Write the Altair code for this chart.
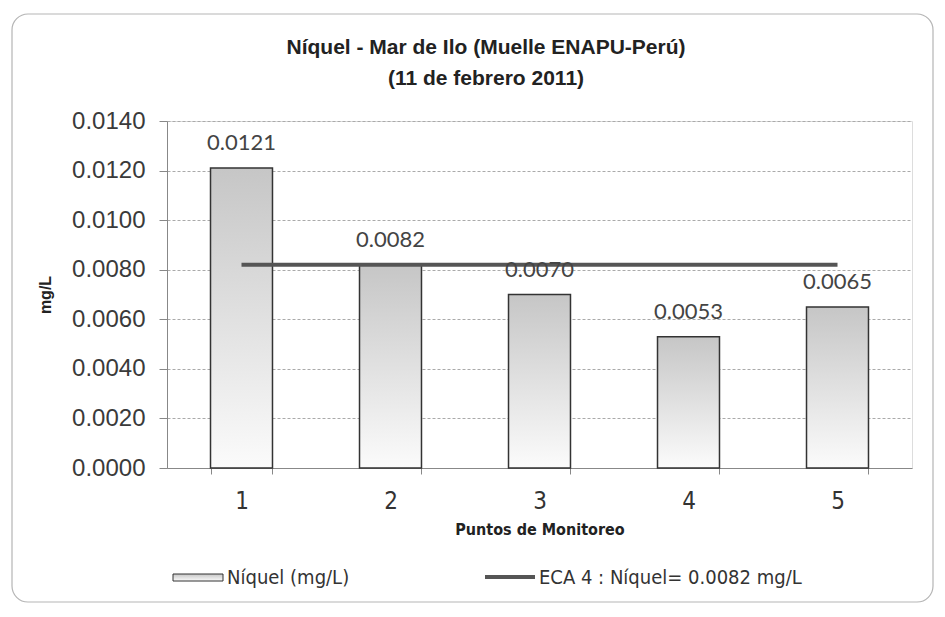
import altair as alt
import pandas as pd

# ---- data ----
puntos = ["1", "2", "3", "4", "5"]
niquel = [0.0121, 0.0082, 0.0070, 0.0053, 0.0065]
etiquetas = ["0.0121", "0.0082", "0.0070", "0.0053", "0.0065"]
eca = [0.0082, 0.0082, 0.0082, 0.0082, 0.0082]
y_ticks = [0.0, 0.002, 0.004, 0.006, 0.008, 0.010, 0.012, 0.014]
titulo = ["Níquel  - Mar de Ilo (Muelle ENAPU-Perú)", "(11 de febrero 2011)"]
eje_x = "Puntos  de Monitoreo"
eje_y = "mg/L"
leyenda_barras = "Níquel (mg/L)"
leyenda_linea = "ECA 4  : Níquel= 0.0082 mg/L"

df = pd.DataFrame({"Punto": puntos, "Niquel": niquel, "Etiqueta": etiquetas, "ECA": eca})
one = pd.DataFrame({"k": [0]})

W, H = 745, 347
NARROW = "Liberation Sans Narrow, Arial Narrow, DejaVu Sans Condensed, sans-serif"
ARIAL = "Liberation Sans, Arial, sans-serif"

x_axis = alt.Axis(
    title=eje_x, labelAngle=0, labelFont=NARROW, labelFontSize=24, labelColor="#333",
    labelPadding=15, tickSize=6, tickColor="#888", tickBand="extent",
    domainColor="#888", grid=False,
    titleFont=NARROW, titleFontSize=16, titleFontWeight="bold", titleColor="#222",
    titlePadding=8,
)
y_axis = alt.Axis(
    title=eje_y, values=y_ticks, format=".4f",
    labelFont=ARIAL, labelFontSize=24, labelColor="#3a3a3a", labelPadding=14,
    tickSize=8, tickColor="#888", domainColor="#888",
    grid=True, gridColor="#aaa", gridDash=[3, 2], gridWidth=1,
    titleFont=ARIAL, titleFontSize=16, titleFontWeight="bold", titleColor="#222",
    titleX=-122, titleY=H / 2, titleAlign="center", titleBaseline="middle",
)
x_enc = alt.X("Punto:N", sort=puntos,
              scale=alt.Scale(paddingInner=0.584, paddingOuter=0.292), axis=x_axis)
y_scale = alt.Scale(domain=[0, 0.014], nice=False)

gradient = alt.Gradient(
    gradient="linear",
    stops=[alt.GradientStop(color="#c6c6c6", offset=0),
           alt.GradientStop(color="#fbfbfb", offset=1)],
    x1=0, x2=0, y1=0, y2=1,
)

frame = alt.Chart(one).mark_rect(
    fill="white", fillOpacity=0, stroke="#b5b5b5", strokeWidth=1.2, cornerRadius=16
).encode(x=alt.value(-155), x2=alt.value(766), y=alt.value(-107), y2=alt.value(481))

title1 = alt.Chart(one).mark_text(
    font=ARIAL, fontSize=21, fontWeight="bold", color="#222", align="center", baseline="middle"
).encode(x=alt.value(319), y=alt.value(-73), text=alt.value(titulo[0]))
title2 = alt.Chart(one).mark_text(
    font=ARIAL, fontSize=21, fontWeight="bold", color="#222", align="center", baseline="middle"
).encode(x=alt.value(319), y=alt.value(-42), text=alt.value(titulo[1]))

bars = alt.Chart(df).mark_bar(
    color=gradient, stroke="#333", strokeWidth=1.5
).encode(x=x_enc, y=alt.Y("Niquel:Q", scale=y_scale, axis=y_axis))

labels = alt.Chart(df).mark_text(
    font="Lato, Open Sans, sans-serif", fontSize=22, color="#444",
    baseline="alphabetic", dy=-18
).encode(x=x_enc, y=alt.Y("Niquel:Q", scale=y_scale, axis=y_axis), text="Etiqueta:N")

line = alt.Chart(df).mark_line(
    color="#555", strokeWidth=4
).encode(x=x_enc, y=alt.Y("ECA:Q", scale=y_scale, axis=y_axis))

# legend (drawn below the plot)
leg_rect = alt.Chart(one).mark_rect(
    color=gradient, stroke="#333", strokeWidth=1
).encode(x=alt.value(6), x2=alt.value(56), y=alt.value(453), y2=alt.value(460))
leg_text1 = alt.Chart(one).mark_text(
    font=NARROW, fontSize=20, color="#333", align="left", baseline="middle"
).encode(x=alt.value(60), y=alt.value(457), text=alt.value(leyenda_barras))
leg_line = alt.Chart(one).mark_rule(
    color="#555", strokeWidth=4
).encode(x=alt.value(318), x2=alt.value(368), y=alt.value(456))
leg_text2 = alt.Chart(one).mark_text(
    font=NARROW, fontSize=20, color="#333", align="left", baseline="middle"
).encode(x=alt.value(372), y=alt.value(457), text=alt.value(leyenda_linea))

chart = alt.layer(
    frame, title1, title2, bars, line, labels, leg_rect, leg_text1, leg_line, leg_text2
).properties(
    width=W, height=H,
    autosize=alt.AutoSizeParams(type="none"),
    padding={"left": 159, "top": 113, "right": 23, "bottom": 136},
).configure_view(
    stroke="#999", strokeWidth=1
).configure(background="white")

chart.save("out.html", embed_options={"renderer": "svg", "actions": False})
